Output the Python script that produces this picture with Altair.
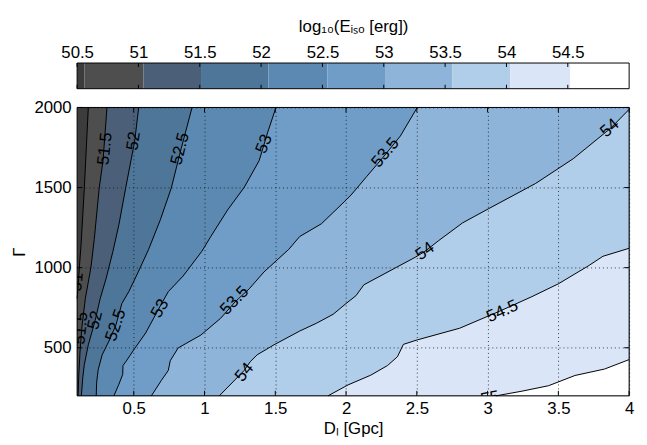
import altair as alt
import pandas as pd

W, H = 559, 292
FONT = "Liberation Sans"
FS = 17

X_DOMAIN = [0.1, 4.0]
Y_DOMAIN = [200, 2000]
X_TICKS = [0.5, 1, 1.5, 2, 2.5, 3, 3.5, 4]
Y_TICKS = [500, 1000, 1500, 2000]

LEVELS = [51, 51.5, 52, 52.5, 53, 53.5, 54, 54.5, 55]
# fill colour of the region above each level (index 0 = below 51)
REGION_COLORS = ["#3c3c3c", "#4e4e4e", "#4b6078", "#4e7699", "#5c89b1",
                 "#6f9dc7", "#8eb4d9", "#b0cde9", "#dae6f7", "#ffffff"]

# contour lines (D_l [Gpc], Gamma), listed from lower-left to upper-right
C51_X = [0.100, 0.106, 0.116, 0.128, 0.151, 0.179]
C51_Y = [807, 868, 1003, 1145, 1496, 2000]
C515_X = [0.107, 0.111, 0.120, 0.133, 0.158, 0.198, 0.221, 0.256, 0.283, 0.311]
C515_Y = [200, 315, 469, 622, 807, 1004, 1176, 1496, 1668, 2000]
C52_X = [0.130, 0.140, 0.151, 0.179, 0.228, 0.263, 0.304, 0.353, 0.395, 0.444, 0.507, 0.535]
C52_Y = [200, 315, 395, 518, 672, 807, 930, 1102, 1268, 1502, 1791, 2000]
C525_X = [0.235, 0.238, 0.249, 0.277, 0.325, 0.374, 0.416, 0.465, 0.535, 0.605, 0.688, 0.765, 0.835, 0.912]
C525_Y = [200, 284, 364, 456, 542, 641, 776, 850, 979, 1114, 1299, 1496, 1742, 2000]
C53_X = [0.360, 0.395, 0.422, 0.424, 0.444, 0.500, 0.584, 0.674, 0.744, 0.849, 0.981, 1.044, 1.163, 1.281, 1.386, 1.449, 1.505]
C53_Y = [200, 272, 333, 389, 413, 487, 592, 739, 850, 948, 1102, 1194, 1360, 1502, 1668, 1852, 2000]
C535_X = [0.625, 0.695, 0.744, 0.758, 0.814, 0.974, 1.114, 1.218, 1.316, 1.420, 1.595, 1.672, 1.826, 1.986, 2.035, 2.147, 2.259, 2.384, 2.503]
C535_Y = [200, 296, 358, 419, 499, 579, 684, 788, 868, 973, 1114, 1194, 1274, 1410, 1453, 1570, 1686, 1822, 2000]
C54_X = [1.105, 1.280, 1.323, 1.372, 1.490, 1.672, 1.791, 1.909, 2.000, 2.070, 2.126, 2.489, 2.558, 2.656, 2.824, 3.005, 3.340, 3.605, 3.870, 4.0]
C54_Y = [200, 358, 413, 456, 518, 604, 653, 709, 776, 825, 893, 1065, 1102, 1170, 1280, 1367, 1526, 1680, 1871, 1988]
C545_X = [1.873, 2.014, 2.175, 2.293, 2.363, 2.405, 2.503, 2.803, 3.082, 3.313, 3.500, 3.710, 3.815, 4.0]
C545_Y = [200, 268, 329, 389, 444, 521, 549, 622, 727, 819, 899, 1010, 1071, 1121]
C55_X = [3.061, 3.243, 3.431, 3.618, 3.826, 4.0]
C55_Y = [200, 229, 263, 327, 367, 426]

CONTOURS = [(C51_X, C51_Y), (C515_X, C515_Y), (C52_X, C52_Y), (C525_X, C525_Y),
            (C53_X, C53_Y), (C535_X, C535_Y), (C54_X, C54_Y), (C545_X, C545_Y),
            (C55_X, C55_Y)]

# inline contour labels
LABEL_TEXT = ["51.5", "52", "52.5", "53", "53.5", "54", "54", "54.5", "55",
              "51", "51.5", "52", "52.5", "53", "53.5", "54"]
LABEL_X = [0.297, 0.500, 0.828, 1.421, 2.279, 3.864, 2.558, 3.104, 3.017,
           0.099, 0.127, 0.228, 0.374, 0.686, 1.212, 1.282]
LABEL_Y = [1742, 1791, 1742, 1772, 1717, 1871, 1102, 727, 186,
           911, 622, 672, 641, 745, 795, 346]
LABEL_ANGLE = [276, 279, 284, 292, 310, 319, 325, 336, 349,
               275, 276, 284, 289, 299, 314, 310]

# colour bar
CB_BOUNDS = [50.5, 50.56, 51.04, 51.51, 52.06, 52.54, 53.01, 53.56, 54.03, 54.52, 55.0]
CB_COLORS = REGION_COLORS
CB_TICKS = [50.5, 51, 51.5, 52, 52.5, 53, 53.5, 54, 54.5]

axis_common = dict(labelFont=FONT, titleFont=FONT, labelFontSize=FS, titleFontSize=FS,
                   titleFontWeight="normal", labelColor="black", titleColor="black",
                   labelFlush=False, labelOverlap=False, ticks=False, domain=False)

x_axis = alt.Axis(orient="bottom", values=X_TICKS, format="~g", grid=True,
                  gridDash=[1, 3], gridColor="#111111", gridOpacity=0.8, zindex=1,
                  title="Dₗ [Gpc]", labelPadding=5, titlePadding=4, **axis_common)
y_axis = alt.Axis(orient="left", values=Y_TICKS, format="d", grid=True,
                  gridDash=[1, 3], gridColor="#111111", gridOpacity=0.8, zindex=1,
                  title="Γ", labelPadding=6, titlePadding=5, **axis_common)

x_enc = alt.X("x:Q", scale=alt.Scale(domain=X_DOMAIN, nice=False, zero=False), axis=x_axis)
y_enc = alt.Y("y:Q", scale=alt.Scale(domain=Y_DOMAIN, nice=False, zero=False), axis=y_axis)

layers = []

bg_df = pd.DataFrame({"x": [X_DOMAIN[0]], "x2": [X_DOMAIN[1]],
                      "y": [Y_DOMAIN[0]], "y2": [Y_DOMAIN[1]]})
layers.append(alt.Chart(bg_df).mark_rect(color=REGION_COLORS[0]).encode(
    x=x_enc, x2="x2:Q", y=y_enc, y2="y2:Q"))

for i, (cx, cy) in enumerate(CONTOURS):
    ax, ay = list(cx), list(cy)
    if ay[-1] >= Y_DOMAIN[1] and ax[-1] < X_DOMAIN[1]:
        ax.append(X_DOMAIN[1])
        ay.append(Y_DOMAIN[1])
    adf = pd.DataFrame({"x": ax, "y": ay, "i": range(len(ax))})
    layers.append(alt.Chart(adf).mark_area(color=REGION_COLORS[i + 1], interpolate="linear").encode(
        x=x_enc, y=y_enc, y2=alt.datum(Y_DOMAIN[0])))

for i, (cx, cy) in enumerate(CONTOURS):
    ldf = pd.DataFrame({"x": cx, "y": cy, "i": range(len(cx))})
    layers.append(alt.Chart(ldf).mark_line(color="black", strokeWidth=1).encode(
        x=x_enc, y=y_enc, order="i:Q"))

lab_df = pd.DataFrame({"x": LABEL_X, "y": LABEL_Y, "t": LABEL_TEXT, "a": LABEL_ANGLE})
layers.append(alt.Chart(lab_df).mark_text(font=FONT, fontSize=FS, color="black", clip=True,
                                          align="center", baseline="middle").encode(
    x=x_enc, y=y_enc, text="t:N", angle=alt.Angle("a:Q", scale=None)))

xt_df = pd.DataFrame({"x": X_TICKS})
yt_df = pd.DataFrame({"y": Y_TICKS})
layers.append(alt.Chart(xt_df).mark_rule(color="black").encode(x=x_enc, y=alt.value(H), y2=alt.value(H - 5)))
layers.append(alt.Chart(xt_df).mark_rule(color="black").encode(x=x_enc, y=alt.value(0), y2=alt.value(5)))
layers.append(alt.Chart(yt_df).mark_rule(color="black").encode(y=y_enc, x=alt.value(0), x2=alt.value(5)))
layers.append(alt.Chart(yt_df).mark_rule(color="black").encode(y=y_enc, x=alt.value(W), x2=alt.value(W - 5)))

layers.append(alt.Chart(bg_df).mark_rect(fillOpacity=0, stroke="black", strokeWidth=1).encode(
    x=x_enc, x2="x2:Q", y=y_enc, y2="y2:Q"))

main = alt.layer(*layers)

# colour bar group
cb_axis = alt.Axis(orient="top", offset=45, values=CB_TICKS, format="~g", grid=False,
                   title="log₁₀(Eᵢₛₒ [erg])", labelPadding=2, titlePadding=8, **axis_common)
cb_x = alt.X("lo:Q", scale=alt.Scale(domain=[CB_BOUNDS[0], CB_BOUNDS[-1]], nice=False, zero=False),
             axis=cb_axis)
cb_df = pd.DataFrame({"lo": CB_BOUNDS[:-1], "hi": CB_BOUNDS[1:], "c": CB_COLORS})
cb_rect = alt.Chart(cb_df).mark_rect().encode(
    x=cb_x, x2="hi:Q", y=alt.value(-45), y2=alt.value(-19),
    color=alt.Color("c:N", scale=None))
cbt_df = pd.DataFrame({"lo": CB_TICKS})
cb_t1 = alt.Chart(cbt_df).mark_rule(color="black").encode(x=cb_x, y=alt.value(-45), y2=alt.value(-41))
cb_t2 = alt.Chart(cbt_df).mark_rule(color="black").encode(x=cb_x, y=alt.value(-19), y2=alt.value(-23))
cbf_df = pd.DataFrame({"lo": [CB_BOUNDS[0]], "hi": [CB_BOUNDS[-1]]})
cb_frame = alt.Chart(cbf_df).mark_rect(fillOpacity=0, stroke="black", strokeWidth=1).encode(
    x=cb_x, x2="hi:Q", y=alt.value(-45), y2=alt.value(-19))
cbar = alt.layer(cb_rect, cb_t1, cb_t2, cb_frame)

chart = alt.layer(main, cbar).resolve_scale(x="independent").properties(
    width=W, height=H,
    autosize=alt.AutoSizeParams(type="none"),
    padding={"left": 70, "top": 98, "right": 10, "bottom": 40},
).configure_view(strokeWidth=0).configure(font=FONT)

chart.save("out.html", embed_options={"renderer": "svg", "actions": False})
